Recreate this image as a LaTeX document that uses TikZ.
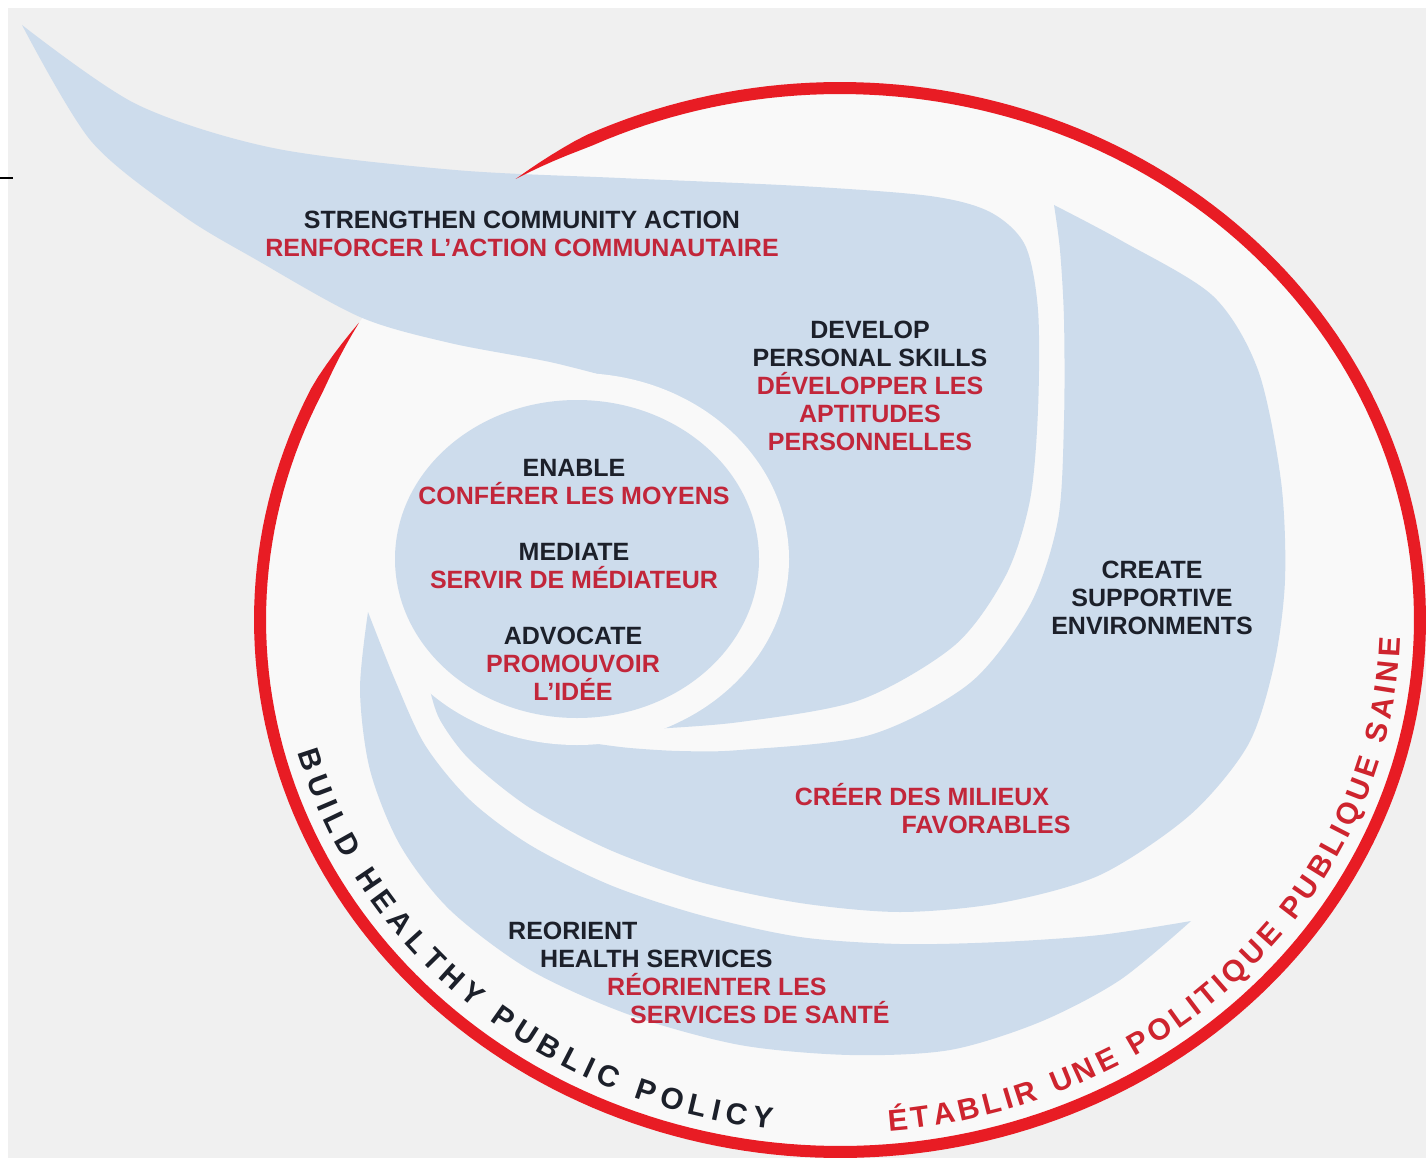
\documentclass[tikz,border=0pt]{standalone}
\usepackage{fontspec}
\setmainfont{Liberation Sans}
\usetikzlibrary{decorations.text}

\newcommand\ringfont{\fontsize{30}{30}\selectfont\bfseries}

\begin{document}
\begin{tikzpicture}[x=1pt,y=-1pt,
  declare function={rw(\t)=6*min(1,(\t-146)/8,(484-\t)/8);}]
  % Colors
  \definecolor{paper}{RGB}{240,240,240}
  \definecolor{inside}{RGB}{249,249,249}
  \definecolor{wingcolor}{RGB}{205,220,236}
  \definecolor{ringcolor}{RGB}{232,28,36}
  \definecolor{engcolor}{RGB}{28,32,42}
  \definecolor{fracolor}{RGB}{194,38,58}
  \definecolor{ringfra}{RGB}{206,36,46}

  % Styles
  \tikzstyle{wing}=[fill=wingcolor]
  \tikzstyle{action text}=[align=center,inner sep=0pt,text=engcolor,
    font=\fontsize{25}{28}\selectfont\bfseries]
  \tikzstyle{french text}=[action text,text=fracolor]

  % The graphic
  \useasboundingbox (0,0) rectangle (1426,1158);
  \fill[white] (0,0) rectangle (1426,1158);
  \fill[paper] (8,8) rectangle (1426,1158);
  \draw[line width=2pt] (0,178) -- (13,178);

  \fill[inside] (840,620) ellipse [x radius=580pt, y radius=532pt];

  % community action and personal skills
  \fill[wing] plot[smooth] coordinates {(22,25) (136,104) (273,148) (455,170)
      (620,178) (800,186) (930,196) (990,212) (1025,245) (1038,310) (1038,410)
      (1030,500) (1006,575) (955,645) (860,700) (740,722) (640,730) (590,735)}
    -- (577,560) -- (620,380)
    -- plot[smooth] coordinates {(620,380) (550,362) (450,343) (360,317)
      (255,259) (182,215) (91,141) (22,25)} -- cycle;

  % supportive environments
  \fill[wing] plot[smooth] coordinates {(1054,205) (1122,241) (1213,296)
      (1258,370) (1281,481) (1285,580) (1274,665) (1248,745) (1190,815)
      (1100,875) (1000,903) (900,912) (800,903) (700,882) (610,850) (530,808)
      (470,760) (440,720) (430,690)}
    -- (560,700) -- (598,744)
    -- plot[smooth] coordinates {(598,744) (630,748) (680,751) (740,750)
      (870,735) (970,683) (1030,605) (1058,520) (1064,420) (1064,320)
      (1060,250) (1054,205)} -- cycle;

  % health services
  \fill[wing] plot[smooth] coordinates {(368,612) (360,690) (370,770)
      (400,845) (450,910) (530,970) (630,1015) (740,1045) (850,1055)
      (950,1050) (1040,1022) (1120,980) (1191,921)}
    -- plot[smooth] coordinates {(1191,921) (1100,935) (1000,942) (900,944)
      (800,937) (700,915) (610,885) (530,845) (470,800) (425,745) (395,680)
      (368,612)} -- cycle;

  % centre
  \fill[inside] (577,559) ellipse [x radius=212pt, y radius=186pt];
  \fill[wing] (577,559) ellipse [x radius=182pt, y radius=159pt];

  % red ring
  \fill[ringcolor]
    plot[domain=146:484,samples=240] ({840+(580+rw(\x))*cos(\x)},{620-(532+rw(\x))*sin(\x)})
    -- plot[domain=484:146,samples=240] ({840+(580-rw(\x))*cos(\x)},{620-(532-rw(\x))*sin(\x)})
    -- cycle;

  \path[decorate,decoration={text along path,text align=fit to path,
      text={|\ringfont\color{engcolor}|BUILD HEALTHY PUBLIC POLICY}}]
    plot[domain=195:263,samples=60] ({840+561*cos(\x)},{620-513*sin(\x)});
  \path[decorate,decoration={text along path,text align=fit to path,
      text={|\ringfont\color{ringfra}|ÉTABLIR UNE POLITIQUE PUBLIQUE SAINE}}]
    plot[domain=275:358,samples=60] ({840+561*cos(\x)},{620-513*sin(\x)});

  % labels
  \node[action text,anchor=north] (community) at (522,211)
    {STRENGTHEN COMMUNITY ACTION\\\color{fracolor}RENFORCER L'ACTION COMMUNAUTAIRE};
  \node[action text,anchor=north] (skills) at (870,321)
    {DEVELOP\\PERSONAL SKILLS\\\color{fracolor}DÉVELOPPER LES\\
     \color{fracolor}APTITUDES\\\color{fracolor}PERSONNELLES};
  \node[action text,anchor=north] (enable) at (574,459)
    {ENABLE\\\color{fracolor}CONFÉRER LES MOYENS};
  \node[action text,anchor=north] (mediate) at (574,543)
    {MEDIATE\\\color{fracolor}SERVIR DE MÉDIATEUR};
  \node[action text,anchor=north] (advocate) at (573,627)
    {ADVOCATE\\\color{fracolor}PROMOUVOIR\\\color{fracolor}L'IDÉE};
  \node[action text,anchor=north] (create) at (1152,561)
    {CREATE\\SUPPORTIVE\\ENVIRONMENTS};
  \node[french text,anchor=base] (milieux) at (922,805) {CRÉER DES MILIEUX};
  \node[french text,anchor=base] (favorables) at (986,833) {FAVORABLES};
  \node[action text,anchor=base west] (reorient) at (508,939) {REORIENT};
  \node[action text,anchor=base west] (health) at (540,967) {HEALTH SERVICES};
  \node[french text,anchor=base west] (reorienter) at (607,995) {RÉORIENTER LES};
  \node[french text,anchor=base west] (sante) at (630,1023) {SERVICES DE SANTÉ};
\end{tikzpicture}
\end{document}
